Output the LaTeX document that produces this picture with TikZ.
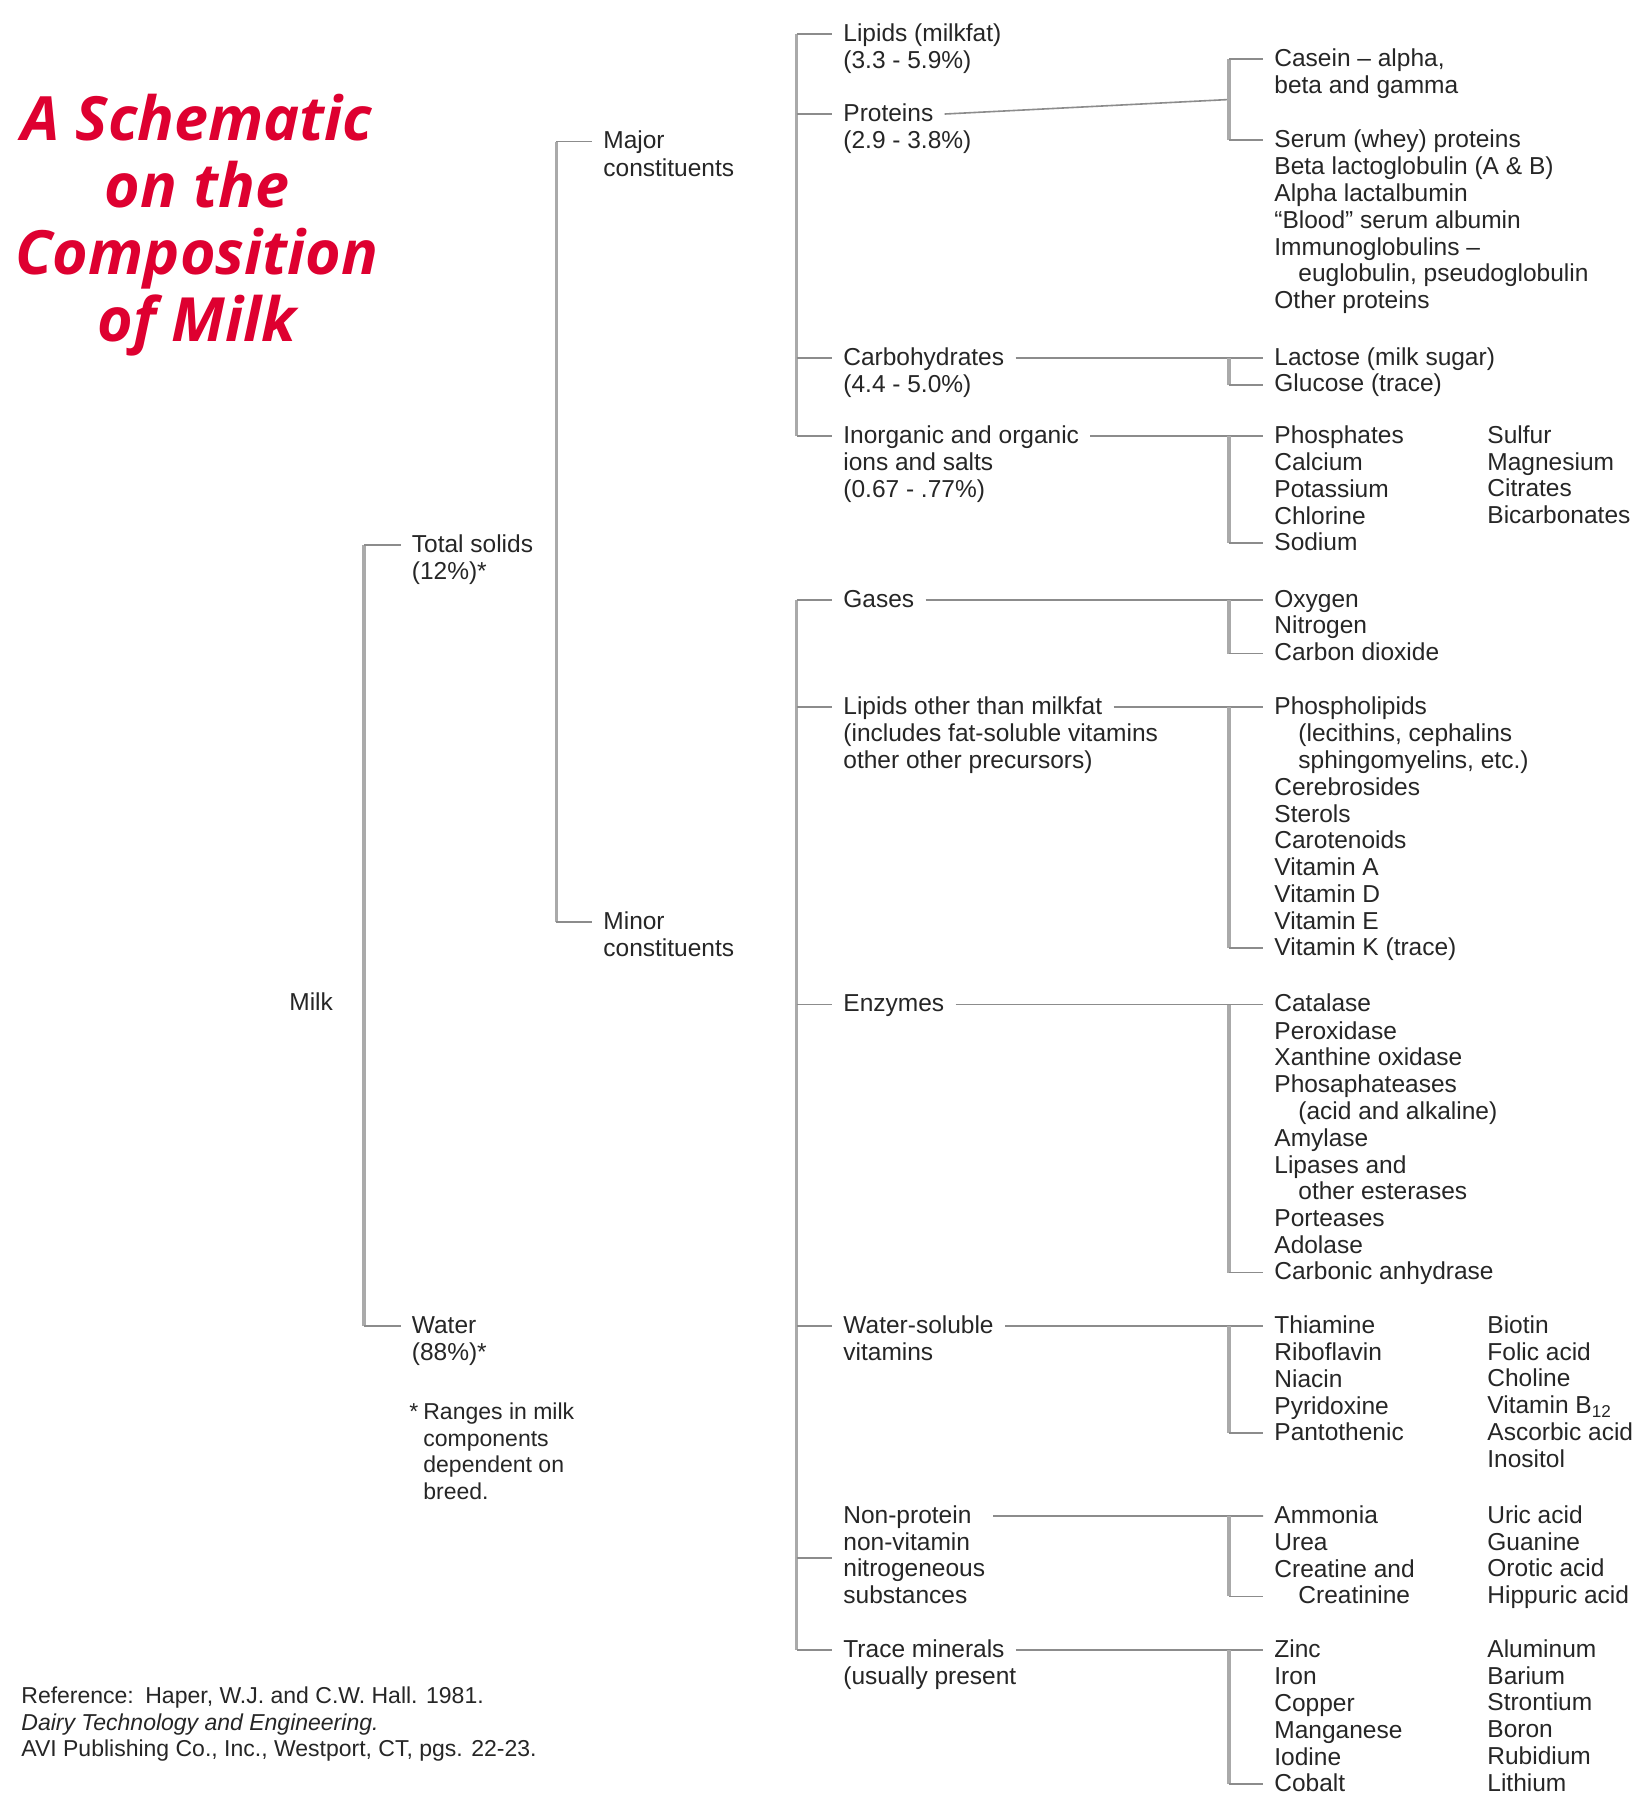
\documentclass[tikz,border=0pt]{standalone}
\usepackage{fontspec}
\setmainfont{Liberation Sans}
\newfontfamily\titlefont{Open Sans}
\usepackage{tikz}
\usetikzlibrary{calc}
\definecolor{ink}{RGB}{38,38,38}
\definecolor{tickgray}{RGB}{140,140,140}
\definecolor{spinegray}{RGB}{170,170,170}
\definecolor{titlered}{RGB}{222,0,48}
\newcommand{\bodysize}{\fontsize{12.25pt}{13.4pt}\selectfont}
\newcommand{\notesize}{\fontsize{11.5pt}{13.4pt}\selectfont}
\newcommand{\titlesize}{\fontsize{30.5pt}{33.5pt}\selectfont}

\begin{document}
\begin{tikzpicture}[x=0.5pt, y=-0.5pt,
    item/.style={anchor=base west, inner xsep=5.5pt, inner ysep=0pt, text height=11pt, text depth=4.02pt, font=\bodysize, text=ink},
    block/.style={anchor=north west, inner xsep=5.5pt, inner ysep=0pt, align=left, font=\bodysize, text=ink},
    tick/.style={draw=tickgray, line width=0.8pt},
    spine/.style={draw=spinegray, line width=1.6pt}]
    \fill[white] (0,0) rectangle (1644,1800);
    \useasboundingbox (0,0) rectangle (1644,1800);

    \node (title) at (197,93.5) [anchor=north, align=center, inner sep=0pt, font=\titlefont\titlesize\bfseries\itshape, text=titlered] {A Schematic\\on the\\Composition\\of Milk};

    % milk, solids and water
    \node (milk) at (278,1010) [item] {Milk};
    \node (total) at (400.5,552) [item] {Total solids};
    \node (totalpc) at (total.south west) [block] {\strut(12\%)*};
    \node (water) at (400.5,1333) [item] {Water};
    \node (waterpc) at (water.south west) [block] {\strut(88\%)*};
    \node (note) at (398,1400.2) [block, font=\notesize] {\strut\makebox[7pt][l]{*}Ranges in milk\\\hspace*{7pt}components\\\hspace*{7pt}dependent on\\\hspace*{7pt}breed.};
    \node (major) at (592,148.6) [item] {Major};
    \node (majorl2) at (major.south west) [block] {\strut constituents};
    \node (minor) at (592,929) [item] {Minor};
    \node (minorl2) at (minor.south west) [block] {\strut constituents};
    \node (ref) at (10,1684.2) [block, font=\notesize] {\strut Reference:\hspace{0.5em}Haper, W.J. and C.W. Hall. 1981.\\\textit{Dairy Technology and Engineering.}\\AVI Publishing Co., Inc., Westport, CT, pgs. 22-23.};

    % major constituents
    \node (lipids) at (832,41) [item] {Lipids (milkfat)};
    \node (lipidspc) at (lipids.south west) [block] {\strut(3.3 - 5.9\%)};
    \node (proteins) at (832,121) [item] {Proteins};
    \node (proteinspc) at (proteins.south west) [block] {\strut(2.9 - 3.8\%)};
    \node (carbs) at (832,365) [item] {Carbohydrates};
    \node (carbspc) at (carbs.south west) [block] {\strut(4.4 - 5.0\%)};
    \node (inorg) at (832,443) [item] {Inorganic and organic};
    \node (inorgl2) at (inorg.south west) [block] {\strut ions and salts\\(0.67 - .77\%)};

    % minor constituents
    \node (gases) at (832,607) [item] {Gases};
    \node (lipids2) at (832,714) [item] {Lipids other than milkfat};
    \node (lipids2l2) at (lipids2.south west) [block] {\strut(includes fat-soluble vitamins\\other other precursors)};
    \node (enzymes) at (832,1011.5) [item] {Enzymes};
    \node (watersol) at (832,1333) [item] {Water-soluble};
    \node (watersoll2) at (watersol.south west) [block] {\strut vitamins};
    \node (nonprot) at (832,1504.2) [block] {\strut Non-protein\\non-vitamin\\nitrogeneous\\substances\strut};
    \coordinate (nonprotend) at ([xshift=80.5pt,yshift=-5.88pt]nonprot.north west);
    \node (trace) at (832,1657) [item] {Trace minerals};
    \node (tracel2) at (trace.south west) [block] {\strut(usually present};

    % lists
    \node (casein) at (1263,66) [item] {Casein – alpha,};
    \node (caseinl2) at (casein.south west) [block] {\strut beta and gamma};
    \node (serum) at (1263,147) [item] {Serum (whey) proteins};
    \node (seruml2) at (serum.south west) [block] {\strut Beta lactoglobulin (A \& B)\\Alpha lactalbumin\\“Blood” serum albumin\\Immunoglobulins –\\\hspace*{12pt}euglobulin, pseudoglobulin\\Other proteins};
    \node (lactose) at (1263,365) [item] {Lactose (milk sugar)};
    \node (glucose) at ([yshift=-13.4pt]lactose.base west) [item] {Glucose (trace)};
    \node (phos) at (1263,443) [item] {Phosphates};
    \node (phosl2) at (phos.south west) [block] {\strut Calcium\\Potassium\\Chlorine};
    \node (sodium) at ([yshift=-53.6pt]phos.base west) [item] {Sodium};
    \node (salts2) at (1476,424.2) [block] {\strut Sulfur\\Magnesium\\Citrates\\Bicarbonates};
    \node (oxygen) at (1263,607) [item] {Oxygen};
    \node (nitrogen) at ([yshift=-13.4pt]oxygen.base west) [item] {Nitrogen};
    \node (co2) at ([yshift=-26.8pt]oxygen.base west) [item] {Carbon dioxide};
    \node (phlip) at (1263,714) [item] {Phospholipids};
    \node (phlipl2) at (phlip.south west) [block] {\strut\hspace*{12pt}(lecithins, cephalins\\\hspace*{12pt}sphingomyelins, etc.)\\Cerebrosides\\Sterols\\Carotenoids\\Vitamin A\\Vitamin D\\Vitamin E};
    \node (vitk) at ([yshift=-120.6pt]phlip.base west) [item] {Vitamin K (trace)};
    \node (catalase) at (1263,1011.5) [item] {Catalase};
    \node (catalasel2) at (catalase.south west) [block] {\strut Peroxidase\\Xanthine oxidase\\Phosaphateases\\\hspace*{12pt}(acid and alkaline)\\Amylase\\Lipases and\\\hspace*{12pt}other esterases\\Porteases\\Adolase};
    \node (carbonic) at ([yshift=-134pt]catalase.base west) [item] {Carbonic anhydrase};
    \node (thiamine) at (1263,1333) [item] {Thiamine};
    \node (thiaminel2) at (thiamine.south west) [block] {\strut Riboflavin\\Niacin\\Pyridoxine};
    \node (panto) at ([yshift=-53.6pt]thiamine.base west) [item] {Pantothenic};
    \node (vitamins2) at (1476,1314.2) [block] {\strut Biotin\\Folic acid\\Choline\\Vitamin B\textsubscript{12}\\Ascorbic acid\\Inositol};
    \node (ammonia) at (1263,1523) [item] {Ammonia};
    \node (ammonial2) at (ammonia.south west) [block] {\strut Urea\\Creatine and};
    \node (creatinine) at ([yshift=-40.2pt]ammonia.base west) [item] {\hspace*{12pt}Creatinine};
    \node (nitro2) at (1476,1504.2) [block] {\strut Uric acid\\Guanine\\Orotic acid\\Hippuric acid};
    \node (zinc) at (1263,1657) [item] {Zinc};
    \node (zincl2) at (zinc.south west) [block] {\strut Iron\\Copper\\Manganese\\Iodine};
    \node (cobalt) at ([yshift=-67pt]zinc.base west) [item] {Cobalt};
    \node (trace2) at (1476,1638.2) [block] {\strut Aluminum\\Barium\\Strontium\\Boron\\Rubidium\\Lithium};

    % bracket spines
    \coordinate (sa) at (364,0);
    \coordinate (sb) at (556.4,0);
    \coordinate (sc) at (796.5,0);
    \coordinate (sd) at (1229,0);

    \draw[spine] (total.west -| sa) -- (water.west -| sa);
    \draw[tick] (total.west -| sa) -- (total.west) (water.west -| sa) -- (water.west);
    \draw[spine] (major.west -| sb) -- (minor.west -| sb);
    \draw[tick] (major.west -| sb) -- (major.west) (minor.west -| sb) -- (minor.west);
    \draw[spine] (lipids.west -| sc) -- (inorg.west -| sc);
    \draw[tick] (lipids.west -| sc) -- (lipids.west) (proteins.west -| sc) -- (proteins.west)
        (carbs.west -| sc) -- (carbs.west) (inorg.west -| sc) -- (inorg.west);
    \draw[spine] (gases.west -| sc) -- (trace.west -| sc);
    \draw[tick] (gases.west -| sc) -- (gases.west) (lipids2.west -| sc) -- (lipids2.west)
        (enzymes.west -| sc) -- (enzymes.west) (watersol.west -| sc) -- (watersol.west)
        (nonprot.west -| sc) -- (nonprot.west) (trace.west -| sc) -- (trace.west);

    % connectors to the lists
    \draw[tick] (proteins.east) -- ($(casein.west -| sd)!0.5!(serum.west -| sd)$);
    \draw[spine] (casein.west -| sd) -- (serum.west -| sd);
    \draw[tick] (casein.west -| sd) -- (casein.west) (serum.west -| sd) -- (serum.west);
    \draw[tick] (carbs.east) -- (lactose.west);
    \draw[spine] (lactose.west -| sd) -- (glucose.west -| sd);
    \draw[tick] (glucose.west -| sd) -- (glucose.west);
    \draw[tick] (inorg.east) -- (phos.west);
    \draw[spine] (phos.west -| sd) -- (sodium.west -| sd);
    \draw[tick] (sodium.west -| sd) -- (sodium.west);
    \draw[tick] (gases.east) -- (oxygen.west);
    \draw[spine] (oxygen.west -| sd) -- (co2.west -| sd);
    \draw[tick] (co2.west -| sd) -- (co2.west);
    \draw[tick] (lipids2.east) -- (phlip.west);
    \draw[spine] (phlip.west -| sd) -- (vitk.west -| sd);
    \draw[tick] (vitk.west -| sd) -- (vitk.west);
    \draw[tick] (enzymes.east) -- (catalase.west);
    \draw[spine] (catalase.west -| sd) -- (carbonic.west -| sd);
    \draw[tick] (carbonic.west -| sd) -- (carbonic.west);
    \draw[tick] (watersol.east) -- (thiamine.west);
    \draw[spine] (thiamine.west -| sd) -- (panto.west -| sd);
    \draw[tick] (panto.west -| sd) -- (panto.west);
    \draw[tick] (nonprotend) -- (ammonia.west);
    \draw[spine] (ammonia.west -| sd) -- (creatinine.west -| sd);
    \draw[tick] (creatinine.west -| sd) -- (creatinine.west);
    \draw[tick] (trace.east) -- (zinc.west);
    \draw[spine] (zinc.west -| sd) -- (cobalt.west -| sd);
    \draw[tick] (cobalt.west -| sd) -- (cobalt.west);
\end{tikzpicture}
\end{document}
